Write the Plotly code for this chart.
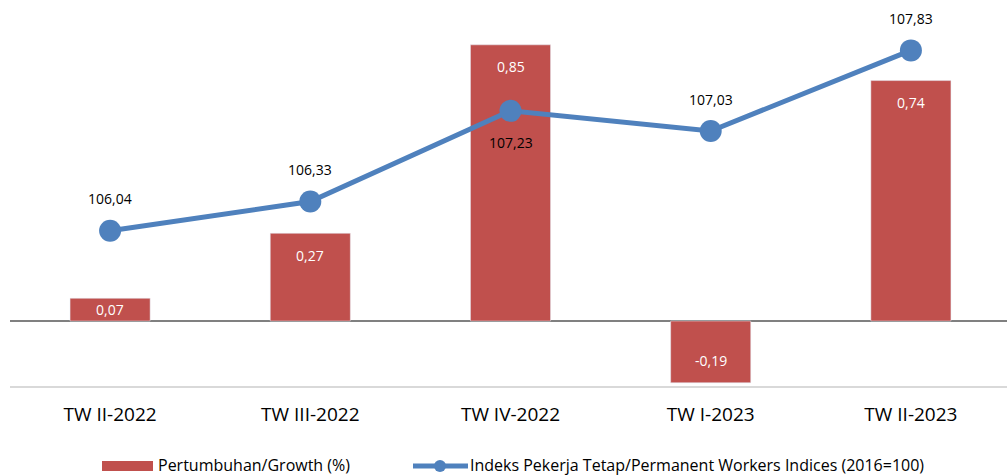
import plotly.graph_objects as go

categories = ["TW II-2022", "TW III-2022", "TW IV-2022", "TW I-2023", "TW II-2023"]
growth = [0.07, 0.27, 0.85, -0.19, 0.74]
index_vals = [106.04, 106.33, 107.23, 107.03, 107.83]
index_label_below = [False, False, True, False, False]
growth_name = "Pertumbuhan/Growth (%)"
index_name = "Indeks Pekerja Tetap/Permanent Workers Indices (2016=100)"

BAR_COLOR = "#C0504D"
LINE_COLOR = "#4F81BD"
FONT = "Open Sans"

W, H = 1007, 476
ML, MR, MT, MB = 10, 0, 0, 90
y_range = [-0.2, 0.988]
y2_range = [104.5, 108.33]
plot_h = H - MT - MB
px_per_unit = plot_h / (y_range[1] - y_range[0])

fig = go.Figure()
fig.add_trace(go.Bar(x=categories, y=growth, marker_color=BAR_COLOR, name=growth_name,
                     showlegend=False, hoverinfo="skip"))
fig.add_trace(go.Scatter(x=categories, y=index_vals, yaxis="y2", mode="lines+markers",
                         line=dict(color=LINE_COLOR, width=5),
                         marker=dict(size=22, color=LINE_COLOR), name=index_name,
                         showlegend=False, hoverinfo="skip"))

def fmt(v):
    return f"{v:.2f}".replace(".", ",")

annotations = []
for c, v in zip(categories, growth):
    hpx = abs(v) * px_per_unit
    off = min(22, hpx / 2)
    annotations.append(dict(x=c, y=v, xref="x", yref="y", text=fmt(v), showarrow=False,
                            yanchor="middle", yshift=-off if v > 0 else off,
                            font=dict(family=FONT, size=14, color="white")))
for c, v, below in zip(categories, index_vals, index_label_below):
    annotations.append(dict(x=c, y=v, xref="x", yref="y2", text=fmt(v), showarrow=False,
                            yanchor="middle", yshift=-32 if below else 32,
                            font=dict(family=FONT, size=14, color="black")))

# manual legend
def px2x(px):
    return (px - ML) / (W - ML - MR)
def py2y(py):
    return (H - MB - py) / plot_h

leg_y = py2y(465)
annotations.append(dict(x=px2x(156), y=leg_y, xref="paper", yref="paper", text=growth_name,
                        showarrow=False, xanchor="left", yanchor="middle",
                        font=dict(family=FONT, size=16, color="black")))
annotations.append(dict(x=px2x(468), y=leg_y, xref="paper", yref="paper", text=index_name,
                        showarrow=False, xanchor="left", yanchor="middle",
                        font=dict(family=FONT, size=16, color="black")))
shapes = [
    dict(type="rect", xref="paper", yref="paper", x0=px2x(102), x1=px2x(153),
         y0=py2y(461), y1=py2y(471), fillcolor=BAR_COLOR, line=dict(width=0)),
    dict(type="line", xref="paper", yref="paper", x0=px2x(413), x1=px2x(468),
         y0=py2y(466), y1=py2y(466), line=dict(color=LINE_COLOR, width=5)),
    dict(type="circle", xref="paper", yref="paper", xsizemode="pixel", ysizemode="pixel",
         xanchor=px2x(440), yanchor=py2y(466), x0=-6, x1=6, y0=-6, y1=6,
         fillcolor=LINE_COLOR, line=dict(width=0)),
]

fig.update_layout(
    width=W, height=H,
    margin=dict(l=ML, r=MR, t=MT, b=MB),
    paper_bgcolor="white", plot_bgcolor="white",
    bargap=0.6,
    separators=",.",
    font=dict(family=FONT, color="black"),
    xaxis=dict(showline=True, linecolor="#d9d9d9", linewidth=1.5, showgrid=False,
               ticks="", tickfont=dict(size=19, color="black"), ticklabelstandoff=10,
               range=[-0.5, 4.48]),
    yaxis=dict(range=y_range, showgrid=False, showticklabels=False, zeroline=True,
               zerolinecolor="#808080", zerolinewidth=2),
    yaxis2=dict(range=y2_range, overlaying="y", side="right", showgrid=False,
                showticklabels=False, zeroline=False),
    annotations=annotations,
    shapes=shapes,
    showlegend=False,
)

fig.write_html("out.html", config={"displayModeBar": False},
               post_script="document.body.style.margin='0';document.body.style.overflow='hidden';")
